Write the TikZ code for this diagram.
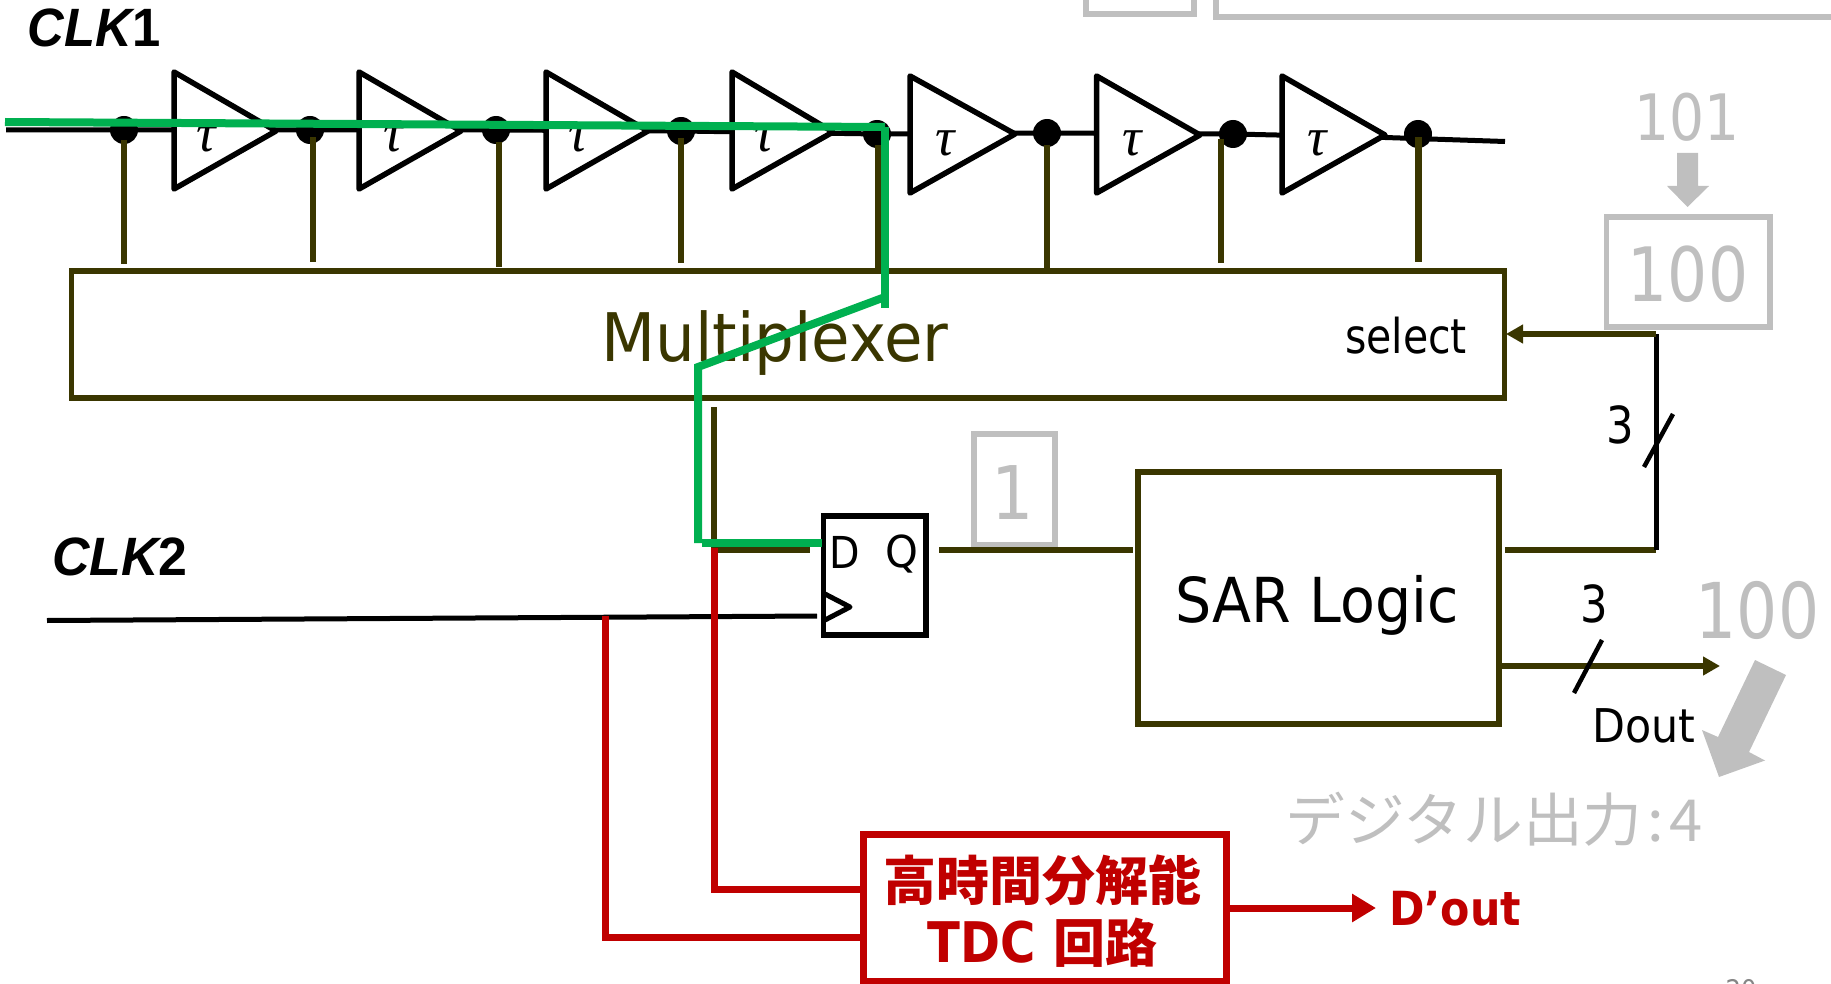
\documentclass[tikz,border=0pt]{standalone}
\usepackage{fontspec}
\usetikzlibrary{arrows.meta}
\setmainfont{DejaVu Sans}
\newfontfamily\cjkfont{Noto Sans CJK JP}
\newfontfamily\arialfont{Liberation Sans}
\newfontfamily\timesfont{Liberation Serif}
\newcommand{\fs}[1]{\fontsize{#1}{#1}\selectfont}
\definecolor{olive}{HTML}{3A3600}
\definecolor{lgray}{HTML}{BFBFBF}
\definecolor{sigred}{HTML}{C00000}
\definecolor{siggreen}{HTML}{00B050}
\tikzset{
  txt/.style={inner sep=0pt,outer sep=0pt,anchor=center},
  box/.style={draw,inner sep=0pt,outer sep=0pt,line join=miter},
  wire/.style={line join=miter,line cap=butt},
  olivewire/.style={wire,draw=olive,line width=6.5pt},
  blackwire/.style={wire,draw=black,line width=5pt},
  redwire/.style={wire,draw=sigred,line width=7pt},
  greenwire/.style={wire,draw=siggreen,line width=8pt},
  slashmark/.style={wire,draw=black,line width=4.5pt},
  dotnode/.style={circle,fill=black,draw=none,minimum size=28pt,inner sep=0pt},
  buffer/.style={draw=black,fill=white,line width=5.5pt,line join=round},
  tau/.style={txt,font=\timesfont\itshape\fs{54}},
}
\newcommand{\bufgate}[7]{%
  \draw[buffer] (#2,#3) coordinate (#1t) -- (#5,#6) coordinate (#1o) -- (#2,#4) coordinate (#1b) -- cycle;
  \node[tau] (#1l) at (#7,{(#3+#4)/2+9}) {τ};
}
\begin{document}
\begin{tikzpicture}[x=1pt,y=-1pt]
\useasboundingbox (0,0) rectangle (1831,984);
\clip (0,0) rectangle (1831,984);

% faded boxes cut by the top edge
\node[box,draw=lgray,line width=5.5pt,minimum width=108pt,minimum height=44pt] (topa) at (1140,-8) {};
\node[box,draw=lgray,line width=5.5pt,minimum width=640pt,minimum height=47pt] (topb) at (1536,-6.5) {};

% clock line 1
\coordinate (c1s) at (6,130);
\node[dotnode] (d1) at (124,130) {};
\node[dotnode] (d2) at (310,130) {};
\node[dotnode] (d3) at (496,130) {};
\node[dotnode] (d4) at (681,131) {};
\node[dotnode] (d5) at (877,134) {};
\node[dotnode] (d6) at (1047,133) {};
\node[dotnode] (d7) at (1233,134) {};
\node[dotnode] (d8) at (1418,134) {};
\coordinate (c1m) at (1385,137.5);
\coordinate (c1e) at (1505,141.5);
\draw[blackwire] (c1s) -- (d1.center) -- (d2.center) -- (d3.center) -- (d4.center) -- (d5.center) -- (d6.center) -- (d7.center) -- (c1m) -- (c1e);

\bufgate{b1}{174}{72}{189}{276}{131}{206.5}
\bufgate{b2}{359}{72}{189}{461}{131}{393}
\bufgate{b3}{546}{72}{189}{648}{131}{578}
\bufgate{b4}{732}{72}{189}{833}{132}{764}
\bufgate{b5}{910}{76}{193}{1015}{134}{945.5}
\bufgate{b6}{1096.5}{76}{193}{1200}{135}{1132}
\bufgate{b7}{1282}{76}{193}{1385}{135}{1317}

% multiplexer
\node[box,draw=olive,line width=5.5pt,minimum width=1433pt,minimum height=127pt] (mux) at (788,334.5) {};
\node[txt,text=olive,font=\fs{67},xscale=.935] (muxt) at (775,343) {Multiplexer};
\node[txt,text=black,font=\fs{48},xscale=.855] (sel) at (1406,336) {select};

% tap stems
\foreach \n/\x/\a/\b in {1/124/140/264,2/313/137/262,3/499/142/267,4/681/138/263,5/878/145/271,6/1047/145/271,7/1221/139/263,8/1418.5/137/262}{
  \coordinate (sa\n) at (\x,\a);
  \coordinate (sb\n) at (\x,\b);
  \draw[olivewire] (sa\n) -- (sb\n);
}

% flip-flop
\node[box,draw=black,line width=5.5pt,minimum width=102.5pt,minimum height=119pt] (ff) at (874.5,575.5) {};
\node[txt,font=\fs{44},xscale=.9] (ffd) at (845,552) {D};
\node[txt,font=\fs{44},xscale=.95] (ffq) at (902,554) {Q};
\coordinate (cka) at (825,594);
\coordinate (ckb) at (850,607);
\coordinate (ckc) at (825,620);
\draw[black,line width=5pt,line join=round] (cka) -- (ckb) -- (ckc);

% CLK labels
\node[txt,font=\arialfont\bfseries\fs{54},xscale=.94] (clka) at (94,28) {\itshape CLK\upshape 1};
\node[txt,font=\arialfont\bfseries\fs{54},xscale=.96] (clkb) at (120,557) {\itshape CLK\upshape 2};

% CLK2 wire
\coordinate (c2s) at (47,620.5);
\coordinate (c2e) at (817,616);
\draw[blackwire] (c2s) -- (c2e);

% D input stub
\coordinate (dst) at (714,407);
\coordinate (dco) at (714,550);
\coordinate (den) at (810,550);
\draw[olivewire] (dst) -- (dco) -- (den);

% SAR
\node[box,draw=olive,line width=6.5pt,minimum width=361pt,minimum height=252pt] (sar) at (1318.5,598) {};
\node[txt,font=\fs{62},xscale=.92] (sart) at (1317,605) {SAR Logic};

% faded "1"
\node[box,draw=lgray,line width=5.5pt,minimum width=81pt,minimum height=111pt] (one) at (1014.5,489.5) {};
\node[txt,text=lgray,font=\fs{74},xscale=.9] (onet) at (1013,493) {1};

% Q to SAR
\coordinate (qo) at (939,550);
\coordinate (si) at (1133,550);
\draw[olivewire] (qo) -- (si);

% SAR to select
\coordinate (so) at (1505,550);
\coordinate (cb) at (1656,550);
\coordinate (ct) at (1656,334);
\coordinate (mi) at (1506,334);
\draw[olivewire] (so) -- (cb);
\draw[blackwire] (cb) -- (ct);
\draw[olivewire,-{Triangle[length=17pt,width=18pt]}] (ct) -- (mi);
\coordinate (sl1a) at (1673,414);
\coordinate (sl1b) at (1644,467);
\draw[slashmark] (sl1a) -- (sl1b);
\node[txt,font=\fs{51},xscale=.85] (n3a) at (1620,425) {3};

% Dout
\coordinate (dos) at (1499,666);
\coordinate (doe) at (1720,666);
\draw[olivewire,-{Triangle[length=17pt,width=18pt]}] (dos) -- (doe);
\coordinate (sl2a) at (1602,640);
\coordinate (sl2b) at (1574,693);
\draw[slashmark] (sl2a) -- (sl2b);
\node[txt,font=\fs{51},xscale=.85] (n3b) at (1594,604) {3};
\node[txt,font=\fs{46.5},xscale=.92] (dout) at (1644,726) {Dout};

% faded register annotations
\node[txt,text=lgray,font=\fs{64},xscale=.86] (t101) at (1687,117) {101};
\fill[lgray] (1677,153) -- (1698,153) -- (1698,186) -- (1709,186) -- (1687.5,207) -- (1667,186) -- (1677,186) -- cycle;
\node[box,draw=lgray,line width=5.5pt,minimum width=163.5pt,minimum height=110pt] (reg) at (1688.25,272) {};
\node[txt,text=lgray,font=\fs{75},xscale=.84] (t100) at (1688,274) {100};
\node[txt,text=lgray,font=\fs{77},xscale=.84] (t100b) at (1757.5,610) {100};
\fill[lgray] (1755,660) -- (1786,675) -- (1749,752) -- (1765,760.5) -- (1719,777) -- (1702,730) -- (1718,737) -- cycle;
\node[txt,text=lgray,font=\cjkfont\fs{58},xscale=1.03] (dig) at (1494,819) {デジタル出力\hspace{5pt}:\hspace{5pt}4};

% page number cut by the bottom edge
\node[txt,text=lgray!70!black,font=\fs{27},xscale=.9] (pg) at (1741,990) {20};

% green path
\coordinate (g1) at (5,122);
\coordinate (g2) at (885,127);
\coordinate (g3) at (885,308);
\coordinate (g4) at (885,297);
\coordinate (g5) at (698,367);
\coordinate (g6) at (698,543);
\coordinate (g7) at (702,543);
\coordinate (g8) at (822,543);
\draw[greenwire] (g1) -- (g2);
\draw[greenwire] (g2) -- (g3);
\draw[greenwire] (g4) -- (g5) -- (g6);
\draw[greenwire] (g7) -- (g8);

% TDC
\node[box,draw=sigred,line width=7pt,fill=white,minimum width=363pt,minimum height=147pt] (tdc) at (1044.5,907.5) {};
\node[txt,text=sigred,font=\cjkfont\bfseries\fs{53}] (tdca) at (1042.5,880) {高時間分解能};
\node[txt,text=sigred,font=\bfseries\fs{56}] (tdcb) at (1042.5,943) {\scalebox{.86}[1]{TDC}\hspace{18pt}{\cjkfont\fs{52}回路}};

\coordinate (r1a) at (714,548);
\coordinate (r1b) at (714,889);
\coordinate (r1c) at (863,889);
\draw[redwire] (r1a) -- (r1b) -- (r1c);
\coordinate (r2a) at (605,616);
\coordinate (r2b) at (605,937);
\coordinate (r2c) at (863,937);
\draw[redwire] (r2a) -- (r2b) -- (r2c);
\coordinate (ro) at (1226,908);
\coordinate (rt) at (1376,908);
\draw[redwire,-{Triangle[length=24pt,width=27pt]}] (ro) -- (rt);
\node[txt,text=sigred,font=\bfseries\fs{47},xscale=.91] (dpo) at (1455,909) {D’out};
\end{tikzpicture}
\end{document}
